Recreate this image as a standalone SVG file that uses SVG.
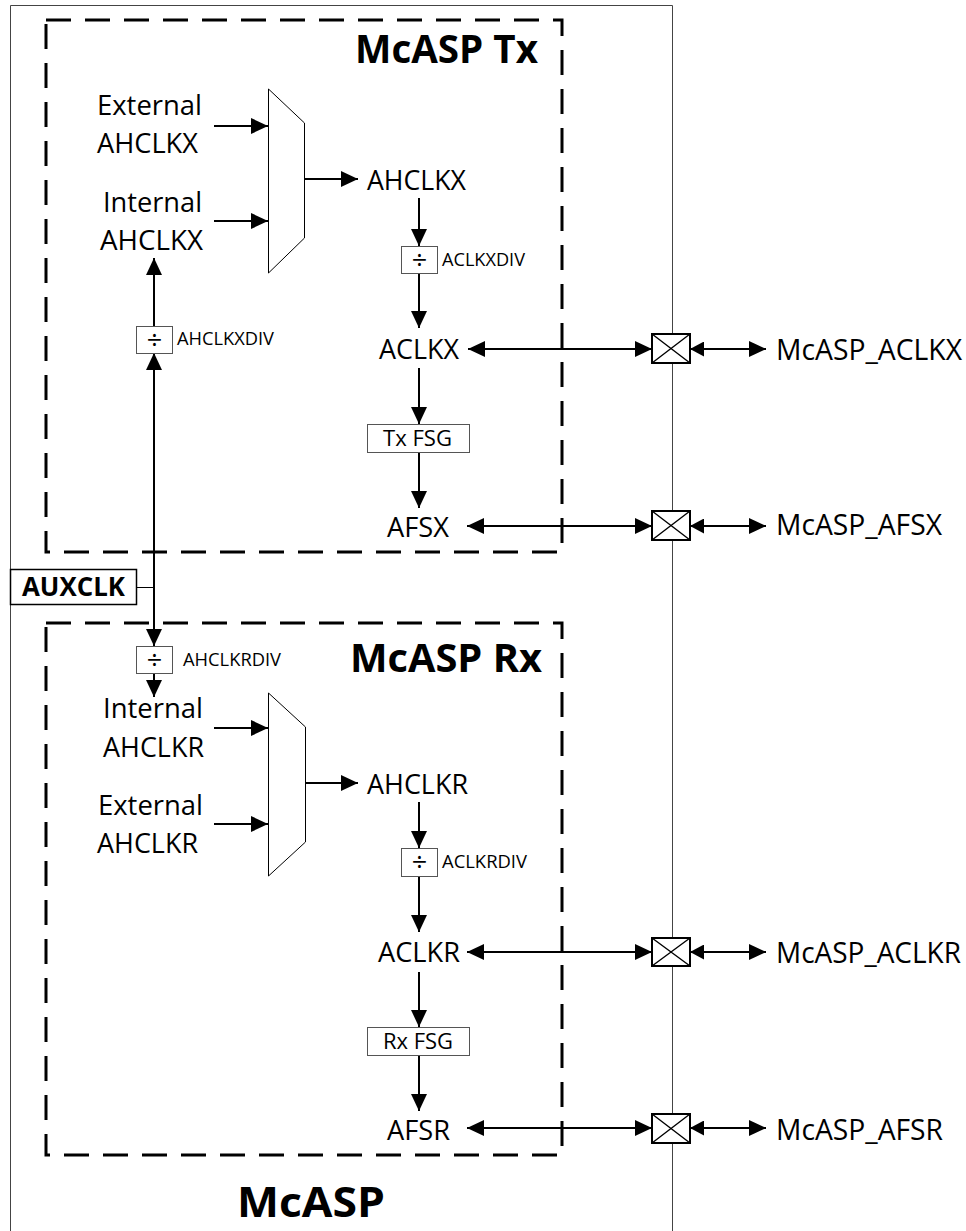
<svg xmlns="http://www.w3.org/2000/svg" width="966" height="1231" viewBox="0 0 966 1231">
<style>
text{font-family:"Open Sans","Liberation Sans",sans-serif;fill:#000}
.lbl{font-size:26.5px}
.pin{font-size:28.5px}
.sm{font-size:18px}
.fsg{font-size:22px}
.div{font-size:27px}
.ttl{font-size:39px;font-weight:bold}
.ln{stroke:#000;stroke-width:2;fill:none}
.thin{stroke:#000;stroke-width:1;fill:none}
.frame{stroke:#444;stroke-width:1;fill:none}
.dash{stroke:#000;stroke-width:3;fill:none;stroke-dasharray:25 14}
.box{fill:#fff;stroke:#555;stroke-width:1}
.mux{fill:#fff;stroke:#000;stroke-width:1}
.buf{fill:#fff;stroke:#000;stroke-width:2}
.x{stroke:#000;stroke-width:1.4}
.arr{marker-end:url(#ah)}
.bi{marker-start:url(#ah);marker-end:url(#ah)}
.bis{marker-start:url(#ahs);marker-end:url(#ah)}
</style>
<defs>
<marker id="ah" markerUnits="userSpaceOnUse" markerWidth="17" markerHeight="16" refX="17" refY="8" orient="auto-start-reverse" viewBox="0 0 17 16"><path d="M0,0 L17,8 L0,16 z" fill="#000"/></marker>
<marker id="ahs" markerUnits="userSpaceOnUse" markerWidth="14" markerHeight="15" refX="14" refY="7.5" orient="auto-start-reverse" viewBox="0 0 14 15"><path d="M0,0 L14,7.5 L0,15 z" fill="#000"/></marker>
</defs>
<rect width="966" height="1231" fill="#fff"/>
<g id="mcasp">
<path class="frame" d="M10.5,1231 V5.5 H672.5 V1231"/>
<text class="ttl" x="237" y="1217" textLength="148" lengthAdjust="spacingAndGlyphs" style="font-size:42px">McASP</text>
</g>
<g id="tx-block">
<rect class="dash" x="46" y="20" width="516" height="532"/>
<text class="ttl" x="355" y="63" textLength="183" lengthAdjust="spacingAndGlyphs">McASP Tx</text>
</g>
<g id="rx-block">
<rect class="dash" x="46" y="623" width="516" height="532"/>
<text class="ttl" x="350" y="672" textLength="192" lengthAdjust="spacingAndGlyphs">McASP Rx</text>
</g>
<g id="connectors">
<path class="ln arr" d="M214,126 H268"/>
<path class="ln arr" d="M214,221 H268"/>
<path class="ln arr" d="M304,179 H358"/>
<path class="ln arr" d="M419,198 V246"/>
<path class="ln arr" d="M419,273 V328"/>
<path class="ln arr" d="M419,368 V424"/>
<path class="ln arr" d="M419,452 V508"/>
<path class="ln bi" d="M468,349 H652"/>
<path class="ln bis" d="M690,349 H766"/>
<path class="ln bi" d="M467,526 H652"/>
<path class="ln bis" d="M690,526 H766"/>
<path class="ln arr" d="M154,326 V258"/>
<path class="ln arr" d="M154,587 V353"/>
<path class="ln arr" d="M154,587 V646"/>
<path class="thin" d="M137,587.5 H154"/>
<path class="ln arr" d="M154,673 V697"/>
<path class="ln arr" d="M214,728 H268"/>
<path class="ln arr" d="M214,824 H268"/>
<path class="ln arr" d="M305,783 H358"/>
<path class="ln arr" d="M419,802 V848"/>
<path class="ln arr" d="M419,876 V932"/>
<path class="ln arr" d="M419,972 V1027"/>
<path class="ln arr" d="M419,1055 V1111"/>
<path class="ln bi" d="M467,952 H652"/>
<path class="ln bis" d="M690,952 H766"/>
<path class="ln bi" d="M467,1128 H652"/>
<path class="ln bis" d="M690,1128 H766"/>
</g>
<g id="ext-ahclkx"><text class="lbl" x="97" y="115" textLength="105" lengthAdjust="spacingAndGlyphs">External</text><text class="lbl" x="97" y="153" textLength="101" lengthAdjust="spacingAndGlyphs">AHCLKX</text></g>
<g id="int-ahclkx"><text class="lbl" x="103" y="212" textLength="99" lengthAdjust="spacingAndGlyphs">Internal</text><text class="lbl" x="100" y="250" textLength="103" lengthAdjust="spacingAndGlyphs">AHCLKX</text></g>
<g id="mux-tx"><polygon class="mux" points="268.5,89 304.5,123 304.5,238 268.5,273"/></g>
<g id="ahclkx"><text class="lbl" x="367" y="190" textLength="99" lengthAdjust="spacingAndGlyphs">AHCLKX</text></g>
<g id="aclkxdiv"><rect class="box" x="401.5" y="246.5" width="36" height="27"/><text class="div" x="419.5" y="269" text-anchor="middle">÷</text><text class="sm" x="442" y="266" textLength="83" lengthAdjust="spacingAndGlyphs">ACLKXDIV</text></g>
<g id="aclkx"><text class="lbl" x="379" y="359" textLength="80" lengthAdjust="spacingAndGlyphs">ACLKX</text></g>
<g id="txfsg"><rect class="box" x="367.5" y="424.5" width="102" height="28"/><text class="fsg" x="383" y="446" textLength="69" lengthAdjust="spacingAndGlyphs">Tx FSG</text></g>
<g id="afsx"><text class="lbl" x="387" y="537" textLength="62" lengthAdjust="spacingAndGlyphs">AFSX</text></g>
<g id="ahclkxdiv"><rect class="box" x="136.5" y="326.5" width="36" height="27"/><text class="div" x="154.5" y="349" text-anchor="middle">÷</text><text class="sm" x="177" y="345" textLength="97" lengthAdjust="spacingAndGlyphs">AHCLKXDIV</text></g>
<g id="auxclk"><rect x="10.5" y="569.5" width="126" height="35" fill="#fff" stroke="#000" stroke-width="1.5"/><text x="22" y="596" font-size="26" font-weight="bold" textLength="103" lengthAdjust="spacingAndGlyphs">AUXCLK</text></g>
<g id="ahclkrdiv"><rect class="box" x="136.5" y="646.5" width="36" height="27"/><text class="div" x="154.5" y="669" text-anchor="middle">÷</text><text class="sm" x="183" y="666" textLength="98" lengthAdjust="spacingAndGlyphs">AHCLKRDIV</text></g>
<g id="int-ahclkr"><text class="lbl" x="103" y="718" textLength="100" lengthAdjust="spacingAndGlyphs">Internal</text><text class="lbl" x="103" y="757" textLength="101" lengthAdjust="spacingAndGlyphs">AHCLKR</text></g>
<g id="ext-ahclkr"><text class="lbl" x="98" y="815" textLength="105" lengthAdjust="spacingAndGlyphs">External</text><text class="lbl" x="97" y="853" textLength="101" lengthAdjust="spacingAndGlyphs">AHCLKR</text></g>
<g id="mux-rx"><polygon class="mux" points="268.5,693 305.5,727 305.5,842 268.5,876"/></g>
<g id="ahclkr"><text class="lbl" x="367" y="794" textLength="101" lengthAdjust="spacingAndGlyphs">AHCLKR</text></g>
<g id="aclkrdiv"><rect class="box" x="401.5" y="848.5" width="36" height="28"/><text class="div" x="419.5" y="871" text-anchor="middle">÷</text><text class="sm" x="442" y="868" textLength="85" lengthAdjust="spacingAndGlyphs">ACLKRDIV</text></g>
<g id="aclkr"><text class="lbl" x="378" y="962" textLength="82" lengthAdjust="spacingAndGlyphs">ACLKR</text></g>
<g id="rxfsg"><rect class="box" x="367.5" y="1027.5" width="102" height="28"/><text class="fsg" x="383" y="1049" textLength="70" lengthAdjust="spacingAndGlyphs">Rx FSG</text></g>
<g id="afsr"><text class="lbl" x="387" y="1140" textLength="63" lengthAdjust="spacingAndGlyphs">AFSR</text></g>
<g id="buf-aclkx"><rect class="buf" x="652" y="334" width="38" height="29"/><path class="x" d="M652,334 L690,363 M690,334 L652,363"/></g>
<g id="buf-afsx"><rect class="buf" x="652" y="511" width="38" height="29"/><path class="x" d="M652,511 L690,540 M690,511 L652,540"/></g>
<g id="buf-aclkr"><rect class="buf" x="652" y="938" width="38" height="28"/><path class="x" d="M652,938 L690,966 M690,938 L652,966"/></g>
<g id="buf-afsr"><rect class="buf" x="652" y="1114" width="38" height="29"/><path class="x" d="M652,1114 L690,1143 M690,1114 L652,1143"/></g>
<g id="pin-aclkx"><text class="pin" x="776" y="360" textLength="186" lengthAdjust="spacingAndGlyphs">McASP_ACLKX</text></g>
<g id="pin-afsx"><text class="pin" x="776" y="535" textLength="166" lengthAdjust="spacingAndGlyphs">McASP_AFSX</text></g>
<g id="pin-aclkr"><text class="pin" x="776" y="963" textLength="185" lengthAdjust="spacingAndGlyphs">McASP_ACLKR</text></g>
<g id="pin-afsr"><text class="pin" x="776" y="1140" textLength="167" lengthAdjust="spacingAndGlyphs">McASP_AFSR</text></g>
</svg>
